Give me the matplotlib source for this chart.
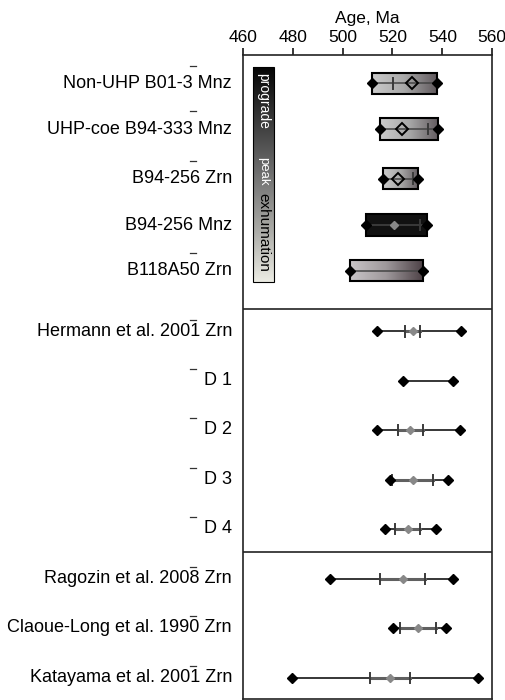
import numpy as np
import matplotlib
matplotlib.use("Agg")
import matplotlib.pyplot as plt
from matplotlib.colors import LinearSegmentedColormap
from matplotlib.patches import Rectangle
import matplotlib.transforms as mtransforms

plt.rcParams['font.family'] = ['Liberation Sans', 'DejaVu Sans']

# Data (ages in Ma)
labels = ["Non-UHP B01-3 Mnz", "UHP-coe B94-333 Mnz", "B94-256 Zrn", "B94-256 Mnz",
          "B118A50 Zrn", "Hermann et al. 2001 Zrn", "D 1", "D 2", "D 3", "D 4",
          "Ragozin et al. 2008 Zrn", "Claoue-Long et al. 1990 Zrn", "Katayama et al. 2001 Zrn"]
age_min = [511.9, 515.0, 516.1, 509.5, 503.0, 513.9, 524.1, 513.8, 519.0, 517.0, 494.9, 520.1, 479.9]
age_max = [537.7, 538.4, 530.4, 534.0, 532.2, 547.3, 544.4, 547.2, 542.3, 537.4, 544.4, 541.3, 554.3]
age_mid = [527.9, 523.9, 522.1, 520.6, np.nan, 528.1, np.nan, 527.0, 528.1, 526.1, 524.1, 530.2, 519.1]
tick_lo = [520.1, np.nan, np.nan, np.nan, np.nan, 525.0, np.nan, 522.1, 519.8, 521.0, 515.0, 523.1, 511.0]
tick_hi = [np.nan, 534.4, 528.2, 531.0, np.nan, 531.2, np.nan, 532.1, 536.2, 531.2, 533.2, 537.3, 527.1]
box_style = ["grey", "grey", "grey", "black", "grey2"]
stages = ["prograde", "peak", "exhumation"]

# layout
ypos = [0.58, 1.51, 2.52, 3.47, 4.40, 5.64, 6.65, 7.65, 8.67, 9.67, 10.69, 11.69, 12.71]
dividers = [5.18, 10.14]
dash_rows = [0, 1, 2, 4, 5, 6, 7, 8, 9, 10, 11, 12]

fig = plt.figure(figsize=(5.06, 7.0), dpi=100)
ax = fig.add_axes([0.4796, 0.0014, 0.4933, 0.92])

cmaps = {
    "grey": LinearSegmentedColormap.from_list("g", ["#cbcbcb", "#a8a8a8", "#615a5e"]),
    "grey2": LinearSegmentedColormap.from_list("g2", ["#c9c5c7", "#9e989b", "#4e4247"]),
}
grad = np.linspace(0, 1, 256).reshape(1, -1)
bh = 0.44

for i, st in enumerate(box_style):
    x0, x1, y = age_min[i], age_max[i], ypos[i]
    if st == "black":
        ax.add_patch(Rectangle((x0, y - bh / 2), x1 - x0, bh, facecolor="#111111",
                               edgecolor="black", lw=1.5, zorder=2))
    else:
        ax.imshow(grad, extent=[x0, x1, y + bh / 2, y - bh / 2], aspect="auto",
                  cmap=cmaps[st], zorder=1)
        ax.add_patch(Rectangle((x0, y - bh / 2), x1 - x0, bh, facecolor="none",
                               edgecolor="black", lw=1.5, zorder=2))

for i in range(len(labels)):
    y = ypos[i]
    upper = i < 5
    lc = "#444444" if upper else "black"
    ax.plot([age_min[i], age_max[i]], [y, y], color=lc, lw=1.1, zorder=3)
    lo, hi = tick_lo[i], tick_hi[i]
    if not upper and not np.isnan(lo) and not np.isnan(hi):
        ax.plot([lo, hi], [y, y], color="#606060", lw=2.2, zorder=3)
    for t in (lo, hi):
        if not np.isnan(t):
            ax.plot([t, t], [y - 0.11, y + 0.11], color="#3a3a3a", lw=1.4, zorder=4)
    ax.plot([age_min[i], age_max[i]], [y, y], ls="none", marker="D", ms=5.2,
            color="black", zorder=5)
    if not np.isnan(age_mid[i]):
        if i < 3:
            ax.plot(age_mid[i], y, marker="D", ms=6, mfc="none", mec="black",
                    mew=1.4, zorder=5)
        else:
            ax.plot(age_mid[i], y, marker="D", ms=4.5, color="#888888", zorder=5)

# stage legend bar
lg_x0, lg_x1, lg_y0, lg_y1 = 464.2, 472.6, 0.245, 4.63
lg_cmap = LinearSegmentedColormap.from_list("lg", ["#050505", "#3a3a3a", "#707070", "#a8a8a4", "#ecece4"])
ax.imshow(grad.T, extent=[lg_x0, lg_x1, lg_y1, lg_y0], aspect="auto", cmap=lg_cmap, zorder=1)
ax.add_patch(Rectangle((lg_x0, lg_y0), lg_x1 - lg_x0, lg_y1 - lg_y0, facecolor="none",
                       edgecolor="black", lw=0.8, zorder=2))
xm = (lg_x0 + lg_x1) / 2
ax.text(xm, 0.93, stages[0], rotation=-90, ha="center", va="center", color="white", fontsize=10)
ax.text(xm, 2.38, stages[1], rotation=-90, ha="center", va="center", color="white", fontsize=9.5)
ax.text(xm, 3.61, stages[2], rotation=-90, ha="center", va="center", color="black", fontsize=11)

for d in dividers:
    ax.axhline(d, color="#222222", lw=1.2)

# row labels
trans = mtransforms.blended_transform_factory(ax.transAxes, ax.transData)
for i, lab in enumerate(labels):
    ax.text(-0.043, ypos[i], lab, transform=trans, ha="right", va="center", fontsize=13)
for i in dash_rows:
    off = 0.36 if i < 5 else 0.24
    ax.plot([-0.213, -0.185], [ypos[i] - off] * 2, transform=trans, color="#333333",
            lw=0.9, clip_on=False)

ax.set_xlim(460, 560)
ax.set_ylim(13.14, 0)
ax.xaxis.set_ticks_position("top")
ax.xaxis.set_label_position("top")
ax.set_xticks([460, 480, 500, 520, 540, 560])
ax.tick_params(axis="x", direction="out", length=5, width=1.1, labelsize=12.5, pad=2)
ax.set_yticks([])
ax.set_xlabel("Age, Ma", fontsize=12.5, labelpad=5)
for s in ax.spines.values():
    s.set_linewidth(1.2)
    s.set_color("#222222")

fig.savefig("out.png", dpi=100)
